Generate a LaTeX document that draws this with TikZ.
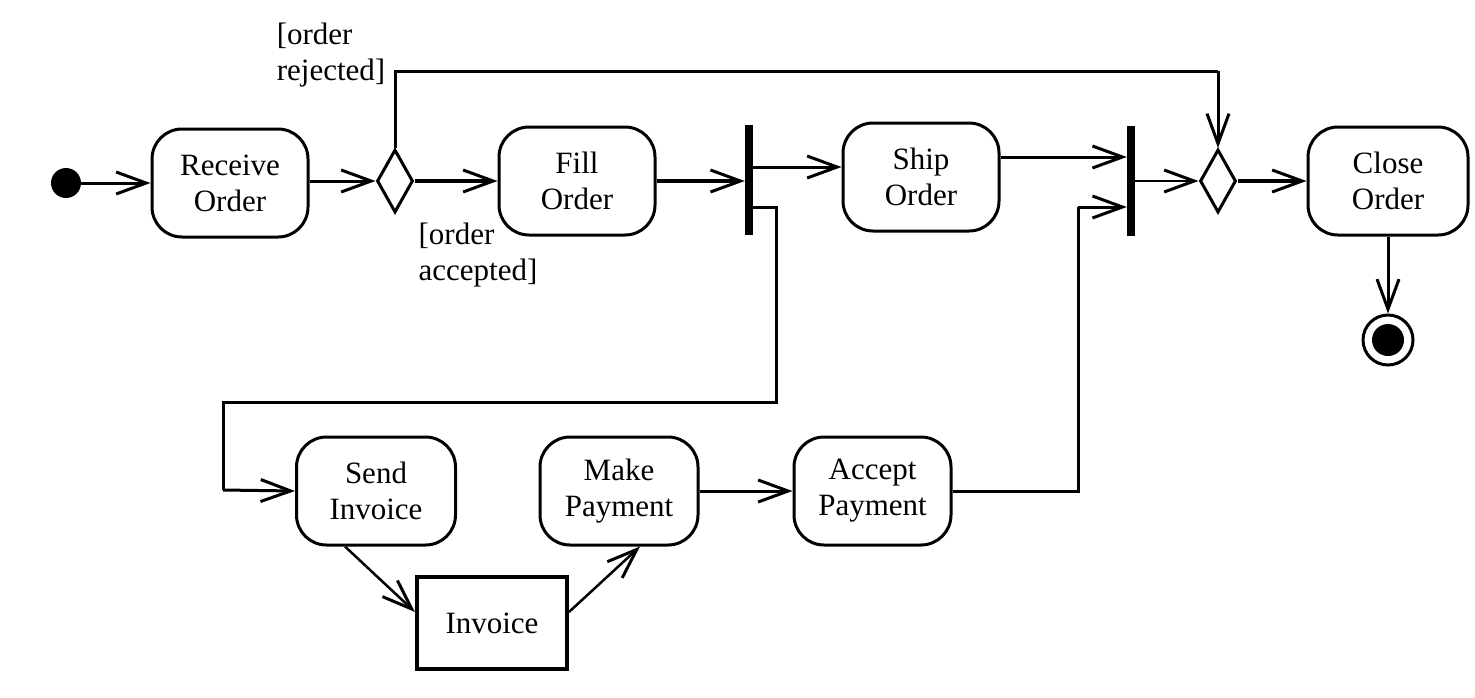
\documentclass[tikz,border=0pt]{standalone}
\usepackage{fontspec}
\setmainfont{Liberation Serif}
\usetikzlibrary{shapes.geometric,arrows.meta,calc}
\begin{document}
\begin{tikzpicture}[x=1pt,y=-1pt,
  every node/.style={font=\fontsize{31}{36}\selectfont},
  act/.style={draw,line width=3pt,rounded corners=30pt,minimum width=156pt,minimum height=108pt,align=center,inner sep=0pt},
  dec/.style={draw,diamond,line width=3pt,minimum width=36pt,minimum height=63pt,inner sep=0pt},
  bar/.style={fill=black,draw=none,minimum width=8pt,minimum height=110pt,inner sep=0pt},
  obj/.style={draw,line width=4pt,minimum width=150pt,minimum height=92pt,inner sep=0pt},
  lbl/.style={align=left,inner sep=0pt},
  flow/.style={line width=3pt,-{Straight Barb[length=30pt,width=22pt,line width=3pt]}},
  line/.style={line width=3pt}
]
\useasboundingbox (0,0) rectangle (1475,697);
% nodes
\node[circle,fill=black,minimum size=30pt,inner sep=0pt] (init) at (66,183) {};
\node[act] (recv) at (230,183) {Receive\\Order};
\node[dec] (dec1) at (395,181) {};
\node[act] (fill) at (577,181) {Fill\\Order};
\node[bar] (fork) at (749,180) {};
\node[act] (ship) at (921,177) {Ship\\Order};
\node[bar] (join) at (1131,181) {};
\node[dec] (dec2) at (1218,181) {};
\node[act,minimum width=160pt] (close) at (1388,181) {Close\\Order};
\node[circle,draw,line width=3pt,minimum size=50pt,inner sep=0pt] (final) at (1388,340) {};
\node[circle,fill=black,minimum size=32pt,inner sep=0pt] (finalin) at (final) {};
\node[act,minimum width=159pt] (send) at (376,491) {Send\\Invoice};
\node[obj] (inv) at (492,623) {Invoice};
\node[act,minimum width=158pt] (make) at (619,491) {Make\\Payment};
\node[act,minimum width=157pt] (acc) at (872.5,491) {Accept\\Payment};
\node[lbl] (rej) at (331,55) {[order\\rejected]};
\node[lbl] (accl) at (478,255) {[order\\accepted]};
% helper coordinates
\coordinate (shipin) at ([yshift=10pt]ship.west);
\coordinate (shipout) at ([yshift=20pt]ship.east);
\coordinate (sendout) at ([xshift=-31pt]send.south);
\coordinate (invin) at ([yshift=11pt]inv.west);
\coordinate (invout) at ([yshift=11pt]inv.east);
\coordinate (makein) at ([xshift=21pt]make.south);
% connectors
\draw[flow] (init) -- (recv.west);
\draw[flow] (recv.east |- dec1.west) -- (dec1.west);
\draw[flow,line width=3.5pt] (dec1.east) -- (fill.west);
\draw[flow,line width=3.5pt] (fill.east) -- (fill.east -| fork.west);
\draw[flow] (fork.east |- shipin) -- (shipin);
\draw[line] (fork.east |- 0,207) -- (776,207) -- (776,402) -- (223,402) -- (223,490);
\draw[flow] (223,490) -- (send.west);
\draw[flow,line width=2.5pt] (sendout) -- (invin);
\draw[flow,line width=2.5pt] (invout) -- (makein);
\draw[flow] (make.east) -- (acc.west);
\draw[line] (acc.east) -- (1078,491) -- (1078,207);
\draw[flow] (1078,207) -- (join.west |- 0,207);
\draw[flow] (shipout) -- (join.west |- shipout);
\draw[flow,line width=1.8pt] (join.east |- dec2.west) -- (dec2.west);
\draw[flow,line width=3.5pt] (dec2.east) -- (close.west);
\draw[flow] (close.south) -- (final.north);
\draw[line] (dec1.north) -- (395,71) -- (1218,71);
\draw[flow] (1218,71) -- (dec2.north);
\end{tikzpicture}
\end{document}
